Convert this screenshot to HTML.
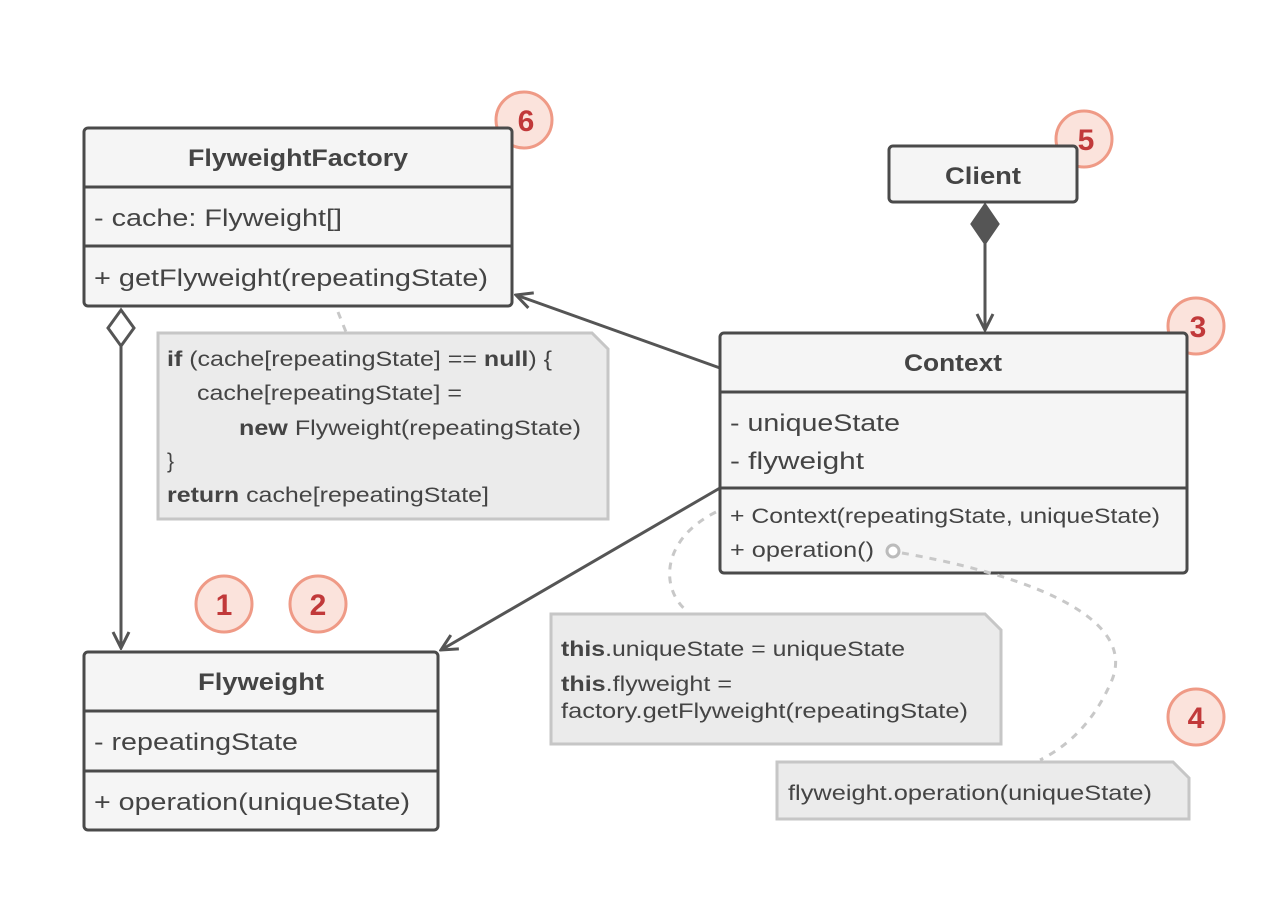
<!DOCTYPE html>
<html><head><meta charset="utf-8"><style>
html,body{margin:0;padding:0;background:#fff;}
svg{display:block;font-family:"Liberation Sans",sans-serif;}
</style></head><body>
<svg width="1280" height="897" viewBox="0 0 1280 897" xmlns="http://www.w3.org/2000/svg">
<defs>
<marker id="open" viewBox="0 0 20 20" refX="18" refY="10" markerWidth="20" markerHeight="20" markerUnits="userSpaceOnUse" orient="auto">
<path d="M2,2 L18,10 L2,18" fill="none" stroke="#555" stroke-width="3"/>
</marker>
</defs>
<g stroke="#555" stroke-width="3" fill="none">
<line x1="121" y1="346" x2="121" y2="648" marker-end="url(#open)"/>
<path d="M121,310 L134,328 L121,346 L108,328 Z" fill="#fff"/>
<line x1="985" y1="242" x2="985" y2="330" marker-end="url(#open)"/>
<path d="M985,205 L998,224 L985,243 L972,224 Z" fill="#555"/>
<line x1="720" y1="368" x2="516" y2="295" marker-end="url(#open)"/>
<line x1="720" y1="488" x2="441" y2="650" marker-end="url(#open)"/>
</g>
<g fill="#fbe3dc" stroke="#ef9a86" stroke-width="3">
<circle cx="524" cy="120" r="28"/>
<circle cx="1084" cy="139" r="28"/>
<circle cx="1196" cy="326" r="28"/>
<circle cx="224" cy="604" r="28"/>
<circle cx="318" cy="604" r="28"/>
<circle cx="1196" cy="717" r="28"/>
</g>
<g stroke="#4a4a4a" stroke-width="3" fill="#f5f5f5">
<rect x="84" y="128" width="428" height="178" rx="4"/>
<line x1="84" y1="187" x2="512" y2="187"/>
<line x1="84" y1="246" x2="512" y2="246"/>
<rect x="889" y="146" width="188" height="56" rx="4"/>
<rect x="720" y="333" width="467" height="240" rx="4"/>
<line x1="720" y1="392" x2="1187" y2="392"/>
<line x1="720" y1="488" x2="1187" y2="488"/>
<rect x="84" y="652" width="354" height="178" rx="4"/>
<line x1="84" y1="711" x2="438" y2="711"/>
<line x1="84" y1="771" x2="438" y2="771"/>
</g>
<g fill="#c1393a" font-size="30" font-weight="bold" text-anchor="middle">
<text x="526" y="131">6</text>
<text x="1086" y="150">5</text>
<text x="1198" y="337">3</text>
<text x="224" y="615">1</text>
<text x="318" y="615">2</text>
<text x="1196" y="728">4</text>
</g>
<g fill="#444" font-size="24">
<text x="298" y="166" text-anchor="middle" font-weight="bold" textLength="220" lengthAdjust="spacingAndGlyphs">FlyweightFactory</text>
<text x="94" y="226" textLength="248" lengthAdjust="spacingAndGlyphs">- cache: Flyweight[]</text>
<text x="94" y="286" textLength="394" lengthAdjust="spacingAndGlyphs">+ getFlyweight(repeatingState)</text>
<text x="983" y="184" text-anchor="middle" font-weight="bold" textLength="76" lengthAdjust="spacingAndGlyphs">Client</text>
<text x="953" y="371" text-anchor="middle" font-weight="bold" textLength="98" lengthAdjust="spacingAndGlyphs">Context</text>
<text x="730" y="431" textLength="170" lengthAdjust="spacingAndGlyphs">- uniqueState</text>
<text x="730" y="469" textLength="134" lengthAdjust="spacingAndGlyphs">- flyweight</text>
<text x="730" y="523" font-size="21" textLength="430" lengthAdjust="spacingAndGlyphs">+ Context(repeatingState, uniqueState)</text>
<text x="730" y="557" font-size="21" textLength="144" lengthAdjust="spacingAndGlyphs">+ operation()</text>
<text x="261" y="690" text-anchor="middle" font-weight="bold" textLength="126" lengthAdjust="spacingAndGlyphs">Flyweight</text>
<text x="94" y="750" textLength="204" lengthAdjust="spacingAndGlyphs">- repeatingState</text>
<text x="94" y="810" textLength="316" lengthAdjust="spacingAndGlyphs">+ operation(uniqueState)</text>
</g>
<g fill="none" stroke="#c8c8c8" stroke-width="3" stroke-dasharray="7,7">
<path d="M338,312 L346,332"/>
<path d="M716,512 C660,540 660,590 688,612"/>
<path d="M902,553 C1000,570 1140,610 1112,680 C1095,720 1070,745 1040,760"/>
</g>
<circle cx="893" cy="551" r="6" fill="#fff" stroke="#bbb" stroke-width="3"/>
<g fill="#ebebeb" stroke="#c6c6c6" stroke-width="3">
<path d="M158,333 L592,333 L608,349 L608,519 L158,519 Z"/>
<path d="M551,614 L985,614 L1001,630 L1001,744 L551,744 Z"/>
<path d="M777,762 L1173,762 L1189,778 L1189,819 L777,819 Z"/>
</g>
<g fill="#444" font-size="21">
<text x="167" y="366" textLength="385" lengthAdjust="spacingAndGlyphs"><tspan font-weight="bold">if</tspan> (cache[repeatingState] == <tspan font-weight="bold">null</tspan>) {</text>
<text x="197" y="400" textLength="265" lengthAdjust="spacingAndGlyphs">cache[repeatingState] =</text>
<text x="239" y="435" textLength="342" lengthAdjust="spacingAndGlyphs"><tspan font-weight="bold">new</tspan> Flyweight(repeatingState)</text>
<text x="167" y="468">}</text>
<text x="167" y="502" textLength="322" lengthAdjust="spacingAndGlyphs"><tspan font-weight="bold">return</tspan> cache[repeatingState]</text>
<text x="561" y="656" textLength="344" lengthAdjust="spacingAndGlyphs"><tspan font-weight="bold">this</tspan>.uniqueState = uniqueState</text>
<text x="561" y="691" textLength="171" lengthAdjust="spacingAndGlyphs"><tspan font-weight="bold">this</tspan>.flyweight =</text>
<text x="561" y="718" textLength="407" lengthAdjust="spacingAndGlyphs">factory.getFlyweight(repeatingState)</text>
<text x="788" y="800" textLength="364" lengthAdjust="spacingAndGlyphs">flyweight.operation(uniqueState)</text>
</g>
</svg>
</body></html>
